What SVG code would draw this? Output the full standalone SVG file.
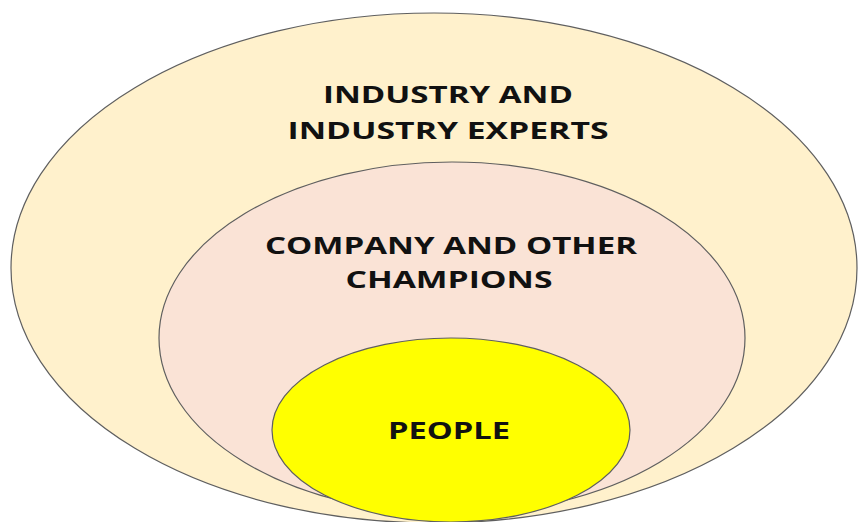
<svg xmlns="http://www.w3.org/2000/svg" width="859" height="522" viewBox="0 0 859 522">
  <style>
    .ring { stroke: #5f5f5f; stroke-width: 1.2; }
    .label { font-family: "Open Sans", "Liberation Sans", sans-serif; font-weight: bold; font-size: 24px; fill: #111111; text-anchor: middle; }
  </style>
  <rect width="859" height="522" fill="#ffffff"/>
  <g id="industry">
    <ellipse class="ring" cx="434" cy="268" rx="423" ry="255" fill="#FFF1CC"/>
    <text class="label" x="448" y="103" textLength="250" lengthAdjust="spacingAndGlyphs">INDUSTRY AND</text>
    <text class="label" x="448" y="139" textLength="321" lengthAdjust="spacingAndGlyphs">INDUSTRY EXPERTS</text>
  </g>
  <g id="company">
    <ellipse class="ring" cx="452" cy="338" rx="293" ry="176" fill="#FAE3D6"/>
    <text class="label" x="451" y="254" textLength="372" lengthAdjust="spacingAndGlyphs">COMPANY AND OTHER</text>
    <text class="label" x="449" y="288" textLength="207" lengthAdjust="spacingAndGlyphs">CHAMPIONS</text>
  </g>
  <g id="people">
    <ellipse class="ring" cx="451" cy="430" rx="179" ry="92" fill="#FFFF00"/>
    <text class="label" x="449" y="439" textLength="122" lengthAdjust="spacingAndGlyphs">PEOPLE</text>
  </g>
  <g id="connectors"></g>
</svg>
